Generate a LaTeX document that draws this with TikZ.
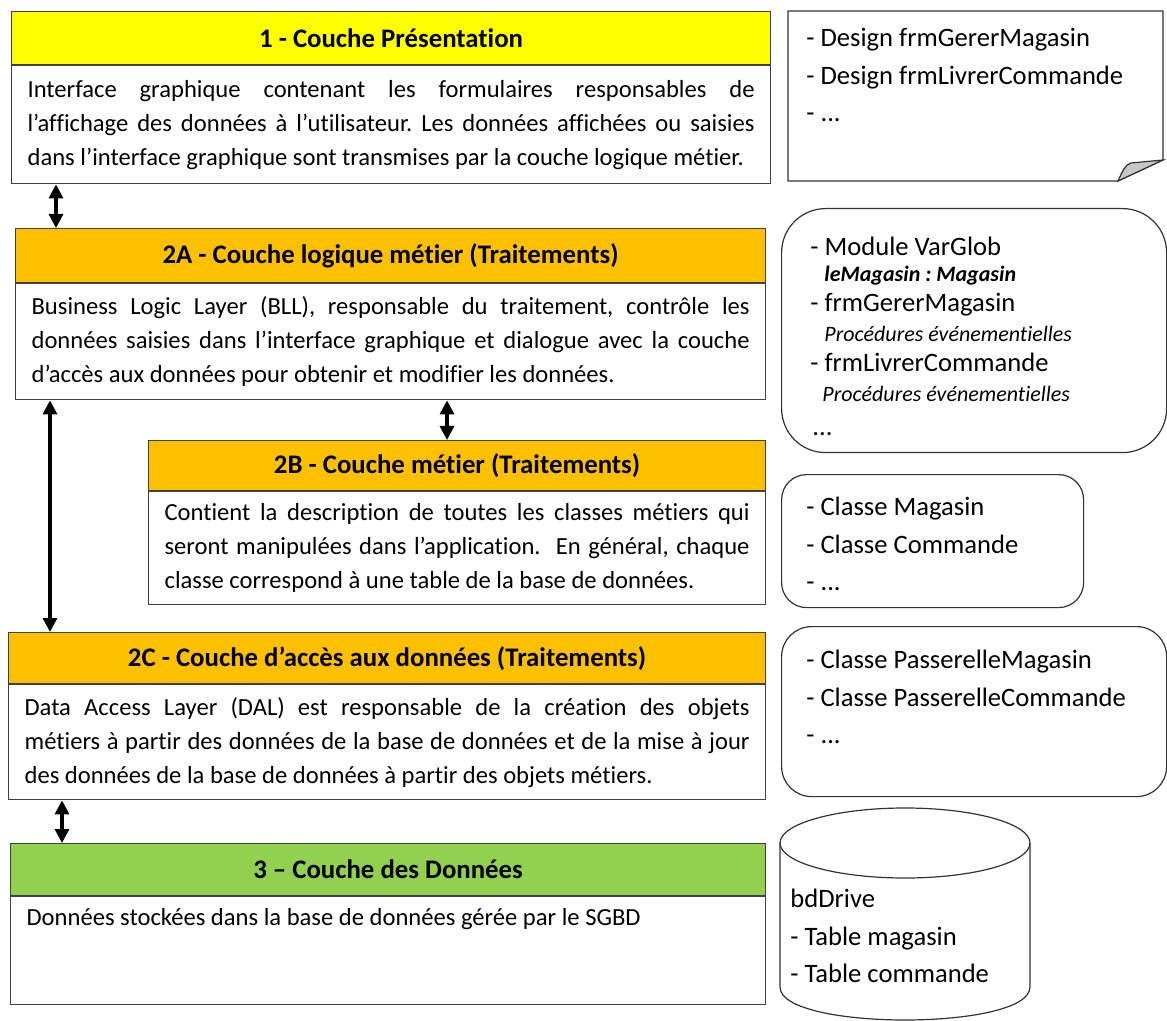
\documentclass[tikz,border=0pt]{standalone}
\usepackage{fontspec}
\setmainfont{Carlito}[Ligatures={NoCommon,NoContextual}, Contextuals=NoAlternate]
\frenchspacing
\usetikzlibrary{shapes, arrows, arrows.meta, positioning}
\definecolor{coulJaune}{HTML}{FFFF00}
\definecolor{coulOrange}{HTML}{FFC000}
\definecolor{coulVert}{HTML}{92D050}

\begin{document}
\begin{tikzpicture}[x=0.5pt, y=-0.5pt,
    tete/.style={draw=black!75, line width=0.6pt, anchor=north west, inner sep=0pt,
      font=\fontsize{13.4}{15}\selectfont\bfseries},
    corps/.style={draw=black!75, line width=0.6pt, anchor=north west, inner xsep=8pt,
      inner ysep=0pt, align=justify, font=\fontsize{12.3}{17}\selectfont},
    boite/.style={draw=black!80, line width=0.6pt, anchor=north west, rounded corners=#1},
    liste/.style={anchor=north west, inner sep=0pt, align=left,
      font=\fontsize{13.3}{18.75}\selectfont},
    lien/.style={{Triangle[width=7pt,length=7pt]}-{Triangle[width=7pt,length=7pt]}, line width=1.6pt}
  ]
  \useasboundingbox (0,0) rectangle (1167,1021);

  % couches de gauche
  \node[tete, fill=coulJaune, minimum width=379.5pt, minimum height=26.5pt] (h1) at (11,11) {1 - Couche Présentation};
  \node[corps, text width=363.5pt, minimum height=59pt] (b1) at (h1.south west)
    {Interface graphique contenant les formulaires responsables de\linebreak
     l’affichage des données à l’utilisateur. Les données affichées ou saisies\linebreak
     dans l’interface graphique sont transmises par la couche logique métier.};

  \node[tete, fill=coulOrange, minimum width=375pt, minimum height=27pt] (h2a) at (15,228) {2A - Couche logique métier (Traitements)};
  \node[corps, text width=359pt, minimum height=58pt] (b2a) at (h2a.south west)
    {Business Logic Layer (BLL), responsable du traitement, contrôle les\linebreak
     données saisies dans l’interface graphique et dialogue avec la couche\linebreak
     d’accès aux données pour obtenir et modifier les données.};

  \node[tete, fill=coulOrange, minimum width=308.5pt, minimum height=25pt] (h2b) at (148,440) {2B - Couche métier (Traitements)};
  \node[corps, text width=292.5pt, minimum height=56.5pt] (b2b) at (h2b.south west)
    {Contient la description de toutes les classes métiers qui\linebreak
     seront manipulées dans l’application.\ \ En général, chaque\linebreak
     classe correspond à une table de la base de données.};

  \node[tete, fill=coulOrange, minimum width=378.5pt, minimum height=25.5pt] (h2c) at (8,632) {2C - Couche d’accès aux données (Traitements)};
  \node[corps, text width=362.5pt, minimum height=57.5pt] (b2c) at (h2c.south west)
    {Data Access Layer (DAL) est responsable de la création des objets\linebreak
     métiers à partir des données de la base de données et de la mise à jour\linebreak
     des données de la base de données à partir des objets métiers.};

  \node[tete, fill=coulVert, minimum width=377.5pt, minimum height=26pt] (h3) at (10,843) {3 – Couche des Données};
  \node[corps, text width=361.5pt, minimum height=54pt] (b3) at (h3.south west)
    {Données stockées dans la base de données gérée par le SGBD\\~\\~};

  % fleches
  \draw[lien] ([xshift=22.5pt]b1.south west) -- ([xshift=20.5pt]h2a.north west);
  \draw[lien] ([xshift=216pt]b2a.south west) -- ([xshift=149.5pt]h2b.north west);
  \draw[lien] ([xshift=17.5pt]b2a.south west) -- ([xshift=21pt]h2c.north west);
  \draw[lien] ([xshift=27pt]b2c.south west) -- ([xshift=26pt]h3.north west);

  % elements de droite
  \draw[draw=black!80, line width=0.6pt] (788,11) -- (1163,11) -- (1163,160) -- (1118,181) -- (788,181) -- cycle;
  \draw[draw=black!80, fill=black!22, line width=0.6pt] (1118,181) .. controls (1123,170) and (1125,165) .. (1131,163) -- (1163,160) -- cycle;
  \node[liste] (t1) at (806,28) {- Design frmGererMagasin\\- Design frmLivrerCommande\\- ...};

  \node[boite=22pt, minimum width=192.5pt, minimum height=122pt] (r2a) at (781,208) {};
  \node[liste, font=\fontsize{13.3}{15}\selectfont] (t2a) at (810,237)
    {- Module VarGlob\\[-2pt]
     \hspace*{7pt}{\fontsize{11}{15}\selectfont\bfseries\itshape leMagasin : Magasin}\\
     - frmGererMagasin\\
     \hspace*{7pt}{\fontsize{11}{15}\selectfont\itshape Procédures événementielles}\\
     - frmLivrerCommande\\
     \hspace*{6pt}{\fontsize{11}{15}\selectfont\itshape Procédures événementielles}\\[2pt]
     \hspace*{1pt}...};

  \node[boite=12.5pt, minimum width=151pt, minimum height=66.5pt] (r2b) at (781,474) {};
  \node[liste] (t2b) at (806,497) {- Classe Magasin\\- Classe Commande\\- ...};

  \node[boite=15pt, minimum width=192.5pt, minimum height=85pt] (r2c) at (781,626) {};
  \node[liste] (t2c) at (806,650) {- Classe PasserelleMagasin\\- Classe PasserelleCommande\\- ...};

  \draw[draw=black!80, line width=0.6pt] (780,843) -- (780,987) .. controls (780,1031) and (1030,1031) .. (1030,987) -- (1030,843);
  \draw[draw=black!80, line width=0.6pt] (905,843) ellipse [x radius=62.5pt, y radius=17.5pt];
  \node[liste] (t3) at (790,889) {bdDrive\\- Table magasin\\- Table commande};
\end{tikzpicture}
\end{document}
